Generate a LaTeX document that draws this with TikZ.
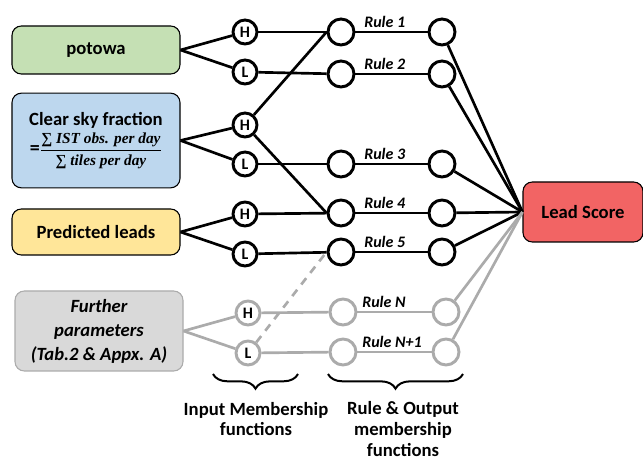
\documentclass[tikz,border=0pt]{standalone}
\usepackage{amsmath}
\usepackage{fontspec}
\setmainfont{Carlito}
\newfontfamily\fracfont{Liberation Serif}
\usepackage{xcolor}
\usepackage{tikz}
\usetikzlibrary{positioning, decorations.pathreplacing}

\definecolor{potgreen}{HTML}{C5E0B4}
\definecolor{skyblue}{HTML}{BDD7EE}
\definecolor{leadyellow}{HTML}{FFE699}
\definecolor{paramgray}{HTML}{D9D9D9}
\definecolor{scorered}{HTML}{F26464}
\definecolor{fadegray}{HTML}{ABABAB}

\begin{document}
\begin{tikzpicture}[
    x=0.75pt, y=-0.75pt,
    inbox/.style={rectangle, rounded corners=7pt, draw=black, line width=0.8pt, minimum width=126pt, align=center, font=\bfseries\fontsize{14}{16}\selectfont},
    mfc/.style={circle, draw=black, line width=2.2pt, fill=white, minimum size=18pt, inner sep=0pt, font=\bfseries\fontsize{12}{12}\selectfont},
    rulec/.style={circle, draw=black, line width=2.2pt, fill=white, minimum size=19.5pt, inner sep=0pt},
    faded/.style={draw=fadegray},
    link/.style={line width=2pt},
    fadelink/.style={link, draw=fadegray},
    rulelbl/.style={anchor=base west, inner sep=0pt, font=\bfseries\itshape\fontsize{12}{13}\selectfont},
    brc/.style={decorate, decoration={brace, amplitude=11pt, mirror}, line width=1.5pt},
    caption/.style={align=center, font=\bfseries\fontsize{14}{15.5}\selectfont}
]
\useasboundingbox (0,0) rectangle (643,459);

% Input parameter boxes (left column)
\node[inbox, fill=potgreen, minimum height=36pt] (potowa) at (96, 50) {potowa};
\node[inbox, fill=skyblue, minimum height=71pt] (clearsky) at (96, 140.5) {Clear sky fraction\\[3pt]{\fontsize{11.5}{13}\selectfont {\fontsize{15}{15}\selectfont =}$\dfrac{\text{\fracfont\bfseries ∑ \itshape IST obs. per day}}{\text{\fracfont\bfseries ∑ \itshape tiles per day}}$}};
\node[inbox, fill=leadyellow, minimum height=34.5pt] (predleads) at (96, 232) {Predicted leads};
\node[inbox, fill=paramgray, draw=fadegray, minimum height=60pt, font=\bfseries\itshape\fontsize{14}{18}\selectfont] (further) at (99, 331) {Further\\parameters\\(Tab.2 \& Appx. A)};

% Input membership functions
\node[mfc] (h1) at (245, 32) {H};
\node[mfc] (l1) at (245, 72) {L};
\node[mfc] (h2) at (245, 125) {H};
\node[mfc] (l2) at (245, 164) {L};
\node[mfc] (h3) at (245, 214) {H};
\node[mfc] (l3) at (245, 254) {L};
\node[mfc, faded] (h4) at (248, 313) {H};
\node[mfc, faded] (l4) at (248, 353) {L};

% Rule membership functions
\node[rulec] (r1) at (341, 32) {};
\node[rulec] (r2) at (341, 74) {};
\node[rulec] (r3) at (341, 164) {};
\node[rulec] (r4) at (341, 213) {};
\node[rulec] (r5) at (341, 252) {};
\node[rulec, faded] (rn) at (343, 312) {};
\node[rulec, faded] (rn1) at (343, 352) {};

% Output membership functions
\node[rulec] (o1) at (442, 32) {};
\node[rulec] (o2) at (442, 74) {};
\node[rulec] (o3) at (442, 164) {};
\node[rulec] (o4) at (442, 213) {};
\node[rulec] (o5) at (442, 252) {};
\node[rulec, faded] (on) at (446, 312) {};
\node[rulec, faded] (on1) at (446, 352) {};

% Output
\node[rectangle, rounded corners=7pt, draw=black, line width=0.8pt, fill=scorered, minimum width=90pt, minimum height=45pt, font=\bfseries\fontsize{14}{16}\selectfont] (lead) at (583, 212) {Lead Score};

% Fan out: boxes -> H/L
\draw[link] (potowa.east) -- (h1);
\draw[link] (potowa.east) -- (l1);
\draw[link] (clearsky.east) -- (h2);
\draw[link] (clearsky.east) -- (l2);
\draw[link] (predleads.east) -- (h3);
\draw[link] (predleads.east) -- (l3);
\draw[fadelink] (further.east) -- (h4);
\draw[fadelink] (further.east) -- (l4);

% H/L -> rules
\draw[link] (h1) -- (r1);
\draw[link] (l1) -- (r2);
\draw[link] (h2) -- (r1.west);
\draw[link] (h2) -- (r4.west);
\draw[link] (l2) -- (r3);
\draw[link] (h3) -- (r4);
\draw[link] (l3) -- (r5);
\draw[fadelink] (h4) -- (rn);
\draw[fadelink] (l4) -- (rn1);
\draw[fadelink, dash pattern=on 6pt off 5pt] (l4) -- (r5.west);

% rules -> outputs, with labels
\draw[link] (r1) -- (o1);
\draw[link] (r2) -- (o2);
\draw[link] (r3) -- (o3);
\draw[link] (r4) -- (o4);
\draw[link] (r5) -- (o5);
\draw[fadelink] (rn) -- (on);
\draw[fadelink] (rn1) -- (on1);
\node[rulelbl] (lbl1) at (364, 28) {Rule 1};
\node[rulelbl] (lbl2) at (364, 70) {Rule 2};
\node[rulelbl] (lbl3) at (364, 160) {Rule 3};
\node[rulelbl] (lbl4) at (364, 209) {Rule 4};
\node[rulelbl] (lbl5) at (364, 248) {Rule 5};
\node[rulelbl] (lbln) at (362, 308) {Rule N};
\node[rulelbl] (lbln1) at (362, 348) {Rule N+1};

% outputs -> Lead Score
\draw[link] (o1) -- (lead.west);
\draw[link] (o2) -- (lead.west);
\draw[link] (o3) -- (lead.west);
\draw[link] (o4) -- (lead.west);
\draw[link] (o5) -- (lead.west);
\draw[fadelink] (on) -- (lead.west);
\draw[fadelink] (on1) -- (lead.west);

% Braces and captions
\coordinate (inL) at (213, 374);
\coordinate (inR) at (298, 374);
\coordinate (ruL) at (328, 374);
\coordinate (ruR) at (463, 374);
\draw[brc] (inL) -- (inR);
\draw[brc] (ruL) -- (ruR);
\node[caption] (incap) at (256, 419) {Input Membership\\functions};
\node[caption] (rulecap) at (403, 429) {Rule \& Output\\membership\\functions};
\end{tikzpicture}
\end{document}
